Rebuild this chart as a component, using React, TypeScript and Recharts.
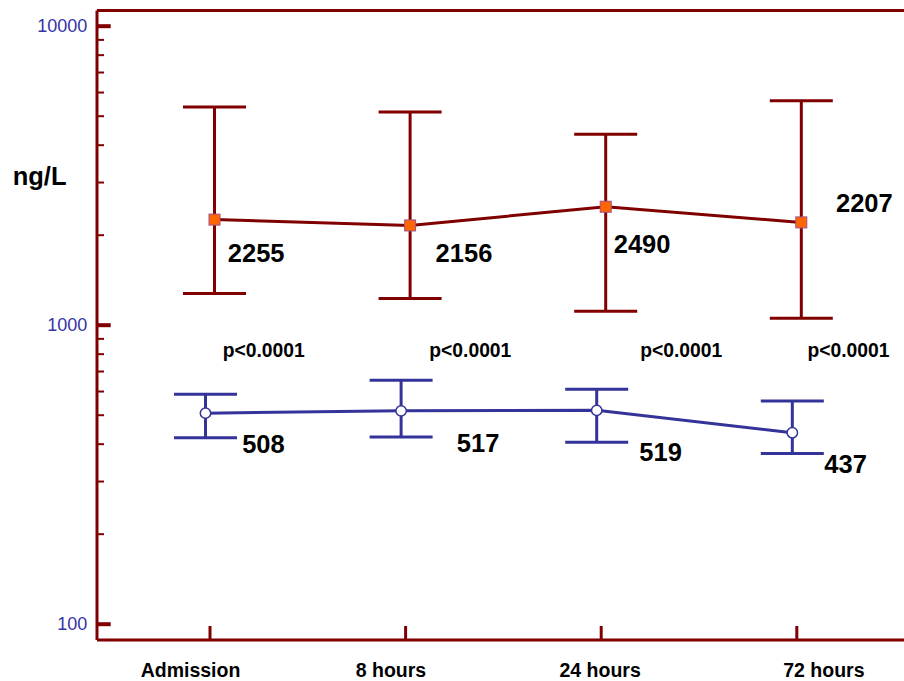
import React from 'react';
import {
  LineChart,
  Line,
  XAxis,
  YAxis,
  ErrorBar,
  LabelList,
  ReferenceLine,
  ReferenceDot,
} from 'recharts';

// Sampling times
const CATEGORIES = ['Admission', '8 hours', '24 hours', '72 hours'];

// Upper group: mean with lower / upper bound of the interval (ng/L)
const HIGH_MEAN = [2255, 2156, 2490, 2207];
const HIGH_LOW = [1276, 1228, 1114, 1055];
const HIGH_UP = [5370, 5169, 4353, 5627];

// Lower group: mean with lower / upper bound of the interval (ng/L)
const LOW_MEAN = [508, 517, 519, 437];
const LOW_LOW = [420, 423, 406, 372];
const LOW_UP = [588, 655, 611, 558];

// Between-group comparison at each time point
const P_VALUES = ['p<0.0001', 'p<0.0001', 'p<0.0001', 'p<0.0001'];

// Log axis ticks
const Y_MAJOR = [100, 1000, 10000];
const Y_TICKS = [
  100, 200, 300, 400, 500, 600, 700, 800, 900,
  1000, 2000, 3000, 4000, 5000, 6000, 7000, 8000, 9000,
  10000,
];

// ---- layout & style ----
const FONT = '"Liberation Sans", Arial, Helvetica, sans-serif';
const RED = '#800000';
const BLUE = '#333399';
const TICK_BLUE = '#3434a8';
const ORANGE = '#ff6600';

const W = 904;
const H = 681;
const X_DOMAIN: [number, number] = [0.4223, 4.548];
const Y_DOMAIN: [number, number] = [88.54, 11285];
const DODGE = 0.023; // horizontal separation of the two groups
const CAP = 31.5;

// label placement relative to each mark (px): [dx, baseline dy]
const HIGH_LABEL_OFFSET = [
  [13.3, 42.6],
  [25.5, 37],
  [8, 46.7],
  [34.7, -10.6],
];
const LOW_LABEL_OFFSET = [
  [36.7, 39.4],
  [55.7, 41.3],
  [42.6, 50.5],
  [32, 40.2],
];
const P_LABEL_DX = [12.7, 23.7, 39, 10.6];
const P_LABEL_DY = 31.5;
const X_LABEL_DX = [-19.5, -14.6, -1.1, 27.1];

const highData = CATEGORIES.map((c, i) => ({
  name: c,
  x: i + 1 + DODGE,
  mean: HIGH_MEAN[i],
  err: [HIGH_MEAN[i] - HIGH_LOW[i], HIGH_UP[i] - HIGH_MEAN[i]],
}));

const lowData = CATEGORIES.map((c, i) => ({
  name: c,
  x: i + 1 - DODGE,
  mean: LOW_MEAN[i],
  err: [LOW_MEAN[i] - LOW_LOW[i], LOW_UP[i] - LOW_MEAN[i]],
}));

const XTick = (p: any) => {
  const idx = Math.round(p.payload.value) - 1;
  const x = p.x;
  const y = p.y;
  return (
    <g>
      <line x1={x} y1={y} x2={x} y2={y - 14} stroke={RED} strokeWidth={3} />
      <text
        x={x + (X_LABEL_DX[idx] ?? 0)}
        y={y + 36.7}
        textAnchor="middle"
        fontFamily={FONT}
        fontWeight="bold"
        fontSize={19.5}
        fill="#000"
      >
        {CATEGORIES[idx]}
      </text>
    </g>
  );
};

const YTick = (p: any) => {
  const v = p.payload.value;
  const major = Y_MAJOR.includes(v);
  const x = p.x;
  const y = p.y;
  return (
    <g>
      <line
        x1={x}
        y1={y}
        x2={x + (major ? 13.7 : 7)}
        y2={y}
        stroke={RED}
        strokeWidth={major ? 4 : 2}
      />
      {major && (
        <text
          x={x - 9.7}
          y={y + 5.7}
          textAnchor="end"
          fontFamily={FONT}
          fontSize={18}
          fill={TICK_BLUE}
        >
          {v}
        </text>
      )}
    </g>
  );
};

const makeValueLabel = (offsets: number[][], values: number[]) => (p: any) => {
  const i = p.index;
  const x = p.x ?? p.viewBox?.x;
  const y = p.y ?? p.viewBox?.y;
  if (x == null || y == null) return null;
  const [dx, dy] = offsets[i];
  return (
    <text
      key={`lbl-${i}`}
      x={x + dx}
      y={y + dy}
      textAnchor="start"
      fontFamily={FONT}
      fontWeight="bold"
      fontSize={25.5}
      fill="#000"
    >
      {values[i]}
    </text>
  );
};

const SquareDot = (p: any) => {
  const { cx, cy, index } = p;
  if (cx == null || cy == null) return <g key={`sq-${index}`} />;
  return (
    <rect
      key={`sq-${index}`}
      x={cx - 5.5}
      y={cy - 5.5}
      width={11}
      height={11}
      fill={ORANGE}
      stroke="#a0508a"
      strokeWidth={1}
    />
  );
};

const PLabel = (i: number) => (p: any) => (
  <text
    x={p.cx + P_LABEL_DX[i]}
    y={p.cy + P_LABEL_DY}
    textAnchor="start"
    fontFamily={FONT}
    fontWeight="bold"
    fontSize={19.3}
    fill="#000"
  >
    {P_VALUES[i]}
  </text>
);

const UnitLabel = (p: any) => {
  const vb = p.viewBox || {};
  const x0 = typeof vb.x === 'number' ? vb.x : 0;
  const y0 = typeof vb.y === 'number' ? vb.y : 10.5;
  return (
    <text
      x={x0 + 12.7}
      y={y0 + 174.5}
      fontFamily={FONT}
      fontWeight="bold"
      fontSize={25.5}
      fill="#000"
    >
      ng/L
    </text>
  );
};

export default function App() {
  return (
    <div style={{ position: 'absolute', left: 0, top: 0, width: W, height: H, background: '#fff' }}>
      <LineChart
        width={W}
        height={H}
        margin={{ top: 10.5, right: 0, bottom: 0, left: 0 }}
      >
        <XAxis
          dataKey="x"
          type="number"
          domain={X_DOMAIN}
          ticks={[1, 2, 3, 4]}
          interval={0}
          allowDataOverflow
          height={41}
          tickSize={0}
          tickMargin={0}
          tickLine={false}
          axisLine={{ stroke: RED, strokeWidth: 3 }}
          tick={<XTick />}
        />
        <YAxis
          type="number"
          scale="log"
          domain={Y_DOMAIN}
          allowDataOverflow
          ticks={Y_TICKS}
          interval={0}
          width={97}
          tickSize={0}
          tickMargin={0}
          tickLine={false}
          axisLine={{ stroke: RED, strokeWidth: 3 }}
          tick={<YTick />}
          label={{ content: UnitLabel }}
        />
        <ReferenceLine y={Y_DOMAIN[1]} stroke={RED} strokeWidth={3} ifOverflow="extendDomain" />

        {CATEGORIES.map((c, i) => (
          <ReferenceDot
            key={`p-${c}`}
            x={i + 1}
            y={1000}
            r={0}
            shape={PLabel(i)}
          />
        ))}

        <Line
          data={highData}
          dataKey="mean"
          stroke={RED}
          strokeWidth={3}
          isAnimationActive={false}
          dot={SquareDot}
          activeDot={false}
        >
          <ErrorBar dataKey="err" direction="y" width={CAP} stroke={RED} strokeWidth={3} isAnimationActive={false} />
          <LabelList dataKey="mean" content={makeValueLabel(HIGH_LABEL_OFFSET, HIGH_MEAN)} />
        </Line>

        <Line
          data={lowData}
          dataKey="mean"
          stroke={BLUE}
          strokeWidth={3}
          isAnimationActive={false}
          dot={{ r: 5.2, fill: '#fff', stroke: BLUE, strokeWidth: 1.5 }}
          activeDot={false}
        >
          <ErrorBar dataKey="err" direction="y" width={CAP} stroke={BLUE} strokeWidth={3} isAnimationActive={false} />
          <LabelList dataKey="mean" content={makeValueLabel(LOW_LABEL_OFFSET, LOW_MEAN)} />
        </Line>
      </LineChart>
    </div>
  );
}
